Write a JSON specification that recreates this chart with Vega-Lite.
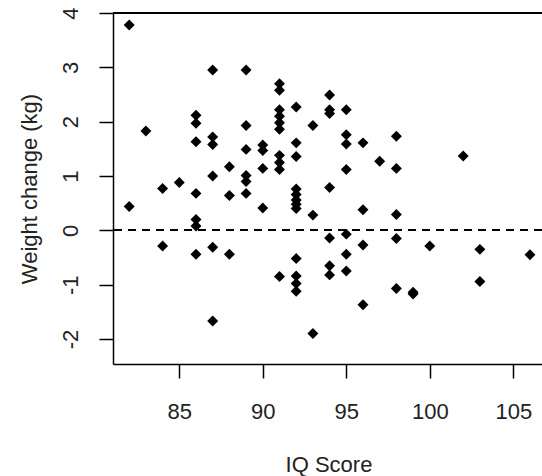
{
  "$schema": "https://vega.github.io/schema/vega-lite/v6.json",
  "autosize": {"type": "none"},
  "padding": {"left": 113, "top": 13, "right": 0, "bottom": 112},
  "width": 429,
  "height": 351,
  "background": "white",
  "config": {
    "view": {"stroke": null},
    "font": "Liberation Sans",
    "axis": {"grid": false, "domainColor": "#000", "domainWidth": 1.5, "tickColor": "#000", "tickWidth": 1.5, "tickSize": 14, "labelColor": "#222", "titleColor": "#222", "labelFontSize": 22, "titleFontSize": 22, "labelFont": "Liberation Sans", "titleFont": "Liberation Sans", "labelFontWeight": "normal", "titleFontWeight": "normal"}
  },
  "data": {"values": [
    {"iq": 82, "wt": 3.78}, {"iq": 82, "wt": 0.44},
    {"iq": 83, "wt": 1.83},
    {"iq": 84, "wt": 0.77}, {"iq": 84, "wt": -0.29},
    {"iq": 85, "wt": 0.88},
    {"iq": 86, "wt": 2.12}, {"iq": 86, "wt": 1.97}, {"iq": 86, "wt": 1.63}, {"iq": 86, "wt": 0.68}, {"iq": 86, "wt": 0.20}, {"iq": 86, "wt": 0.08}, {"iq": 86, "wt": -0.44},
    {"iq": 87, "wt": 2.95}, {"iq": 87, "wt": 1.72}, {"iq": 87, "wt": 1.58}, {"iq": 87, "wt": 1.00}, {"iq": 87, "wt": -0.31}, {"iq": 87, "wt": -1.67},
    {"iq": 88, "wt": 1.17}, {"iq": 88, "wt": 0.64}, {"iq": 88, "wt": -0.44},
    {"iq": 89, "wt": 2.95}, {"iq": 89, "wt": 1.93}, {"iq": 89, "wt": 1.49}, {"iq": 89, "wt": 1.01}, {"iq": 89, "wt": 0.90}, {"iq": 89, "wt": 0.68},
    {"iq": 90, "wt": 1.57}, {"iq": 90, "wt": 1.47}, {"iq": 90, "wt": 1.14}, {"iq": 90, "wt": 0.41},
    {"iq": 91, "wt": 2.70}, {"iq": 91, "wt": 2.58}, {"iq": 91, "wt": 2.22}, {"iq": 91, "wt": 2.10}, {"iq": 91, "wt": 1.98}, {"iq": 91, "wt": 1.86}, {"iq": 91, "wt": 1.38}, {"iq": 91, "wt": 1.25}, {"iq": 91, "wt": 1.12}, {"iq": 91, "wt": -0.85},
    {"iq": 92, "wt": 2.27}, {"iq": 92, "wt": 1.61}, {"iq": 92, "wt": 1.36}, {"iq": 92, "wt": 0.76}, {"iq": 92, "wt": 0.66}, {"iq": 92, "wt": 0.56}, {"iq": 92, "wt": 0.48}, {"iq": 92, "wt": 0.40}, {"iq": 92, "wt": -0.52}, {"iq": 92, "wt": -0.84}, {"iq": 92, "wt": -0.98}, {"iq": 92, "wt": -1.12},
    {"iq": 93, "wt": 1.93}, {"iq": 93, "wt": 0.28}, {"iq": 93, "wt": -1.90},
    {"iq": 94, "wt": 2.49}, {"iq": 94, "wt": 2.22}, {"iq": 94, "wt": 2.15}, {"iq": 94, "wt": 0.79}, {"iq": 94, "wt": -0.14}, {"iq": 94, "wt": -0.65}, {"iq": 94, "wt": -0.82},
    {"iq": 95, "wt": 2.22}, {"iq": 95, "wt": 1.76}, {"iq": 95, "wt": 1.59}, {"iq": 95, "wt": 1.12}, {"iq": 95, "wt": -0.07}, {"iq": 95, "wt": -0.44}, {"iq": 95, "wt": -0.75},
    {"iq": 96, "wt": 1.61}, {"iq": 96, "wt": 0.38}, {"iq": 96, "wt": -0.27}, {"iq": 96, "wt": -1.37},
    {"iq": 97, "wt": 1.27},
    {"iq": 98, "wt": 1.73}, {"iq": 98, "wt": 1.14}, {"iq": 98, "wt": 0.29}, {"iq": 98, "wt": -0.15}, {"iq": 98, "wt": -1.07},
    {"iq": 99, "wt": -1.14}, {"iq": 99, "wt": -1.17},
    {"iq": 100, "wt": -0.29},
    {"iq": 102, "wt": 1.37},
    {"iq": 103, "wt": -0.35}, {"iq": 103, "wt": -0.94},
    {"iq": 106, "wt": -0.45}
  ]},
  "layer": [
    {
      "mark": {"type": "rule", "color": "#000", "strokeWidth": 1.5, "strokeDash": [8, 6]},
      "encoding": {"y": {"datum": 0, "type": "quantitative", "scale": {"domain": [-2.46, 4.0], "nice": false, "zero": false}}}
    },
    {
      "mark": {"type": "rule", "color": "#000", "strokeWidth": 1.5},
      "encoding": {"y": {"datum": 4, "type": "quantitative"}}
    },
    {
      "mark": {"type": "point", "shape": "diamond", "filled": true, "color": "#000", "opacity": 1, "size": 120},
      "encoding": {
        "x": {"field": "iq", "type": "quantitative", "title": "IQ Score",
              "scale": {"domain": [81.03, 106.72], "nice": false, "zero": false},
              "axis": {"values": [85, 90, 95, 100, 105], "labelBaseline": "alphabetic", "labelPadding": 40, "labelFlush": false, "labelOverlap": false,
                       "titleX": 215.5, "titleY": 107, "titleBaseline": "alphabetic", "titleAlign": "center", "titleAnchor": null}},
        "y": {"field": "wt", "type": "quantitative", "title": "Weight change (kg)",
              "scale": {"domain": [-2.46, 4.0], "nice": false, "zero": false},
              "axis": {"values": [-2, -1, 0, 1, 2, 3, 4], "labelExpr": "toString(datum.value)", "labelAngle": -90, "labelAlign": "center", "labelBaseline": "alphabetic", "labelPadding": 22, "labelFlush": false, "labelOverlap": false,
                       "titleAngle": -90, "titleX": -77, "titleY": 175.5, "titleBaseline": "alphabetic", "titleAlign": "center", "titleAnchor": null}}
      }
    }
  ]
}
